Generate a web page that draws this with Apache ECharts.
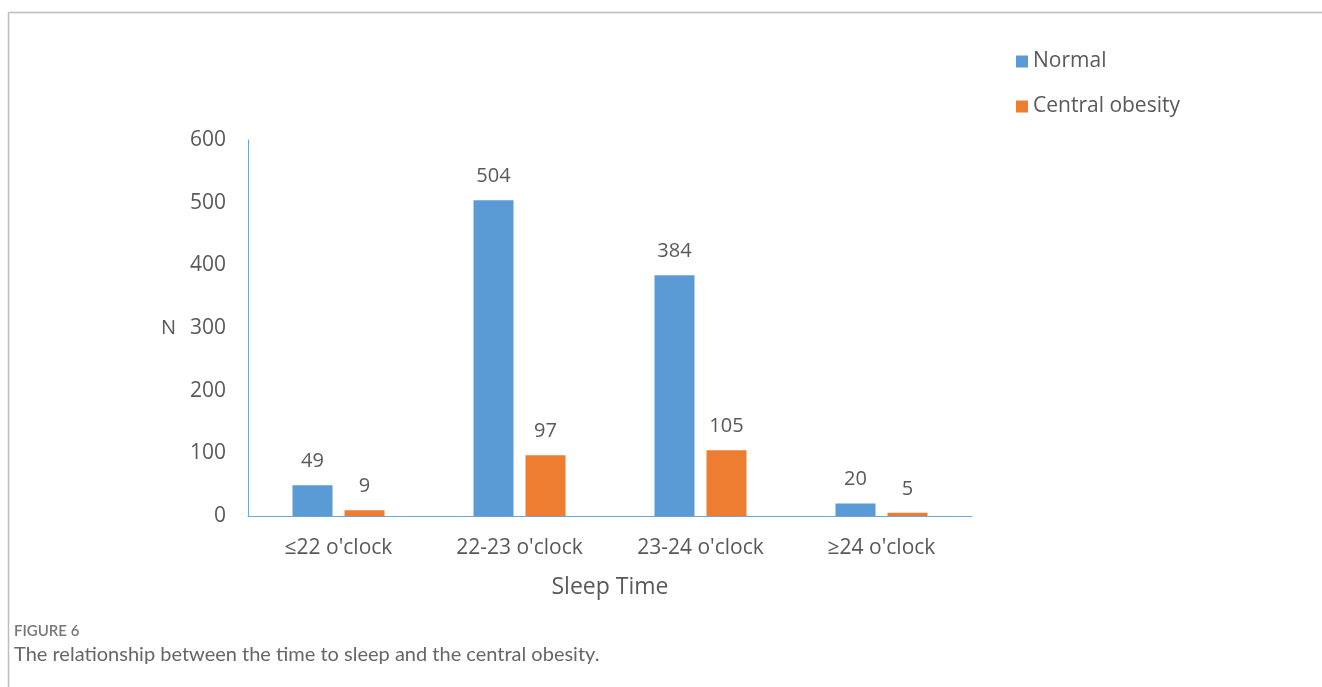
<!DOCTYPE html>
<html style="height: 100%">

<head>
	<meta charset="utf-8">
</head>

<body style="height: 100%; margin: 0; background: #fff">
	<div id="container" style="width: 1322px; height: 687px"></div>
	<script type="text/javascript" src="https://cdn.jsdelivr.net/npm/echarts@6/dist/echarts.min.js"></script>
	<script type="text/javascript">
		// data
		let categories = ['≤22 o\'clock', '22-23 o\'clock', '23-24 o\'clock', '≥24 o\'clock'];
		let normalData = [49, 504, 384, 20];
		let obesityData = [9, 97, 105, 5];
		let seriesNames = ['Normal', 'Central obesity'];

		let dom = document.getElementById("container");
		let myChart = echarts.init(dom);
		let textColor = '#595959';
		let fontName = 'Open Sans';

		let barLabel = {
			show: true,
			position: 'top',
			distance: 14,
			color: textColor,
			fontFamily: fontName,
			fontSize: 20
		};

		let option = {
			animation: false,
			color: ['#5B9BD5', '#ED7D31'],
			legend: {
				orient: 'vertical',
				left: 1011,
				top: 46,
				itemWidth: 12,
				itemHeight: 12,
				itemGap: 24,
				icon: 'rect',
				textStyle: {
					color: textColor,
					fontFamily: fontName,
					fontSize: 21
				},
				data: seriesNames
			},
			grid: {
				left: 248,
				top: 140,
				width: 724,
				height: 376
			},
			xAxis: {
				type: 'category',
				data: categories,
				name: 'Sleep Time',
				nameLocation: 'middle',
				nameGap: 60,
				nameTextStyle: {
					color: textColor,
					fontFamily: fontName,
					fontSize: 23
				},
				axisLine: {
					lineStyle: { color: '#6FA3DA', width: 1 }
				},
				axisTick: { show: false },
				axisLabel: {
					margin: 22,
					color: textColor,
					fontFamily: fontName,
					fontSize: 21
				}
			},
			yAxis: {
				type: 'value',
				min: 0,
				max: 600,
				interval: 100,
				name: 'N',
				nameLocation: 'middle',
				nameRotate: 0,
				nameGap: 72,
				nameTextStyle: {
					color: textColor,
					fontFamily: fontName,
					fontSize: 20
				},
				axisLine: {
					show: true,
					lineStyle: { color: '#6FA3DA', width: 1 }
				},
				axisTick: { show: false },
				splitLine: { show: false },
				axisLabel: {
					margin: 22,
					color: textColor,
					fontFamily: fontName,
					fontSize: 21
				}
			},
			series: [
				{
					name: seriesNames[0],
					type: 'bar',
					barWidth: 40,
					barGap: '30%',
					label: barLabel,
					data: normalData
				},
				{
					name: seriesNames[1],
					type: 'bar',
					barWidth: 40,
					barGap: '30%',
					label: barLabel,
					data: obesityData
				}
			],
			graphic: [
				// figure frame: top and left rule
				{
					type: 'line',
					shape: { x1: 8.5, y1: 12.5, x2: 1322, y2: 12.5 },
					style: { stroke: '#bdbdbd', lineWidth: 1.5 }
				},
				{
					type: 'line',
					shape: { x1: 8.5, y1: 12.5, x2: 8.5, y2: 687 },
					style: { stroke: '#bdbdbd', lineWidth: 1.5 }
				},
				{
					type: 'text',
					left: 14,
					top: 624,
					style: {
						text: 'FIGURE 6',
						fill: '#777',
						font: '600 15px Lato'
					}
				},
				{
					type: 'text',
					left: 14,
					top: 645,
					style: {
						text: 'The relationship between the time to sleep and the central obesity.',
						fill: '#666',
						font: '20px Lato'
					}
				}
			]
		};

		myChart.setOption(option);
	</script>
</body>

</html>
